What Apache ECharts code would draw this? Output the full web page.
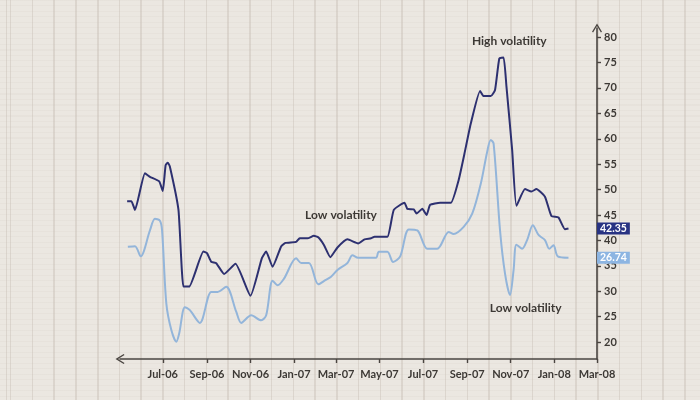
<!DOCTYPE html>
<html>
<head>
<meta charset="utf-8">
<script src="https://cdn.jsdelivr.net/npm/echarts@6/dist/echarts.min.js"></script>
<style>
html, body { margin: 0; padding: 0; }
body {
  width: 700px; height: 400px; overflow: hidden;
  background-color: #ebe7e1;
  background-image:
    repeating-linear-gradient(to right, rgba(190,180,170,0.35) 0px, rgba(190,180,170,0.35) 1.5px, transparent 1.5px, transparent 21.75px),
    repeating-linear-gradient(to bottom, rgba(200,190,180,0.12) 0px, rgba(200,190,180,0.12) 1px, transparent 1px, transparent 5.5px);
  background-position: 10px 0, 0 0;
}
#chart { width: 700px; height: 400px; }
</style>
</head>
<body>
<div id="chart"></div>
<script>
// ---- data ----
const darkDates = ['2006-05-12','2006-05-18','2006-05-23','2006-06-06','2006-06-13','2006-06-26','2006-07-01','2006-07-05','2006-07-08','2006-07-11','2006-07-23','2006-07-30','2006-08-07','2006-08-27','2006-09-01','2006-09-07','2006-09-14','2006-09-25','2006-10-11','2006-11-01','2006-11-17','2006-11-23','2006-12-02','2006-12-14','2006-12-20','2007-01-04','2007-01-09','2007-01-20','2007-01-29','2007-02-04','2007-02-12','2007-02-21','2007-03-03','2007-03-17','2007-04-01','2007-04-10','2007-04-19','2007-04-24','2007-05-12','2007-05-21','2007-06-05','2007-06-09','2007-06-18','2007-06-22','2007-06-30','2007-07-06','2007-07-11','2007-07-25','2007-08-09','2007-08-20','2007-08-28','2007-09-06','2007-09-19','2007-09-24','2007-10-04','2007-10-10','2007-10-16','2007-10-22','2007-10-26','2007-11-03','2007-11-09','2007-11-21','2007-11-30','2007-12-07','2007-12-19','2007-12-28','2008-01-07','2008-01-16','2008-01-21'];
const darkValues = [47.7,47.7,46.0,53.2,52.5,51.6,49.7,54.8,55.3,54.5,46.0,30.9,30.9,37.8,37.5,35.8,35.5,33.4,35.4,29.1,36.5,37.8,34.8,38.8,39.5,39.7,40.4,40.4,40.9,40.6,39.1,36.7,38.6,40.2,39.4,40.2,40.4,40.7,40.7,46.0,47.4,46.2,46.1,45.3,46.2,45.0,47.0,47.4,47.4,51.9,57.0,63.0,69.4,68.4,68.4,69.6,75.8,76.0,70.3,57.8,46.8,50.1,49.6,50.1,48.6,44.8,44.5,42.2,42.35];

const lightDates = ['2006-05-13','2006-05-23','2006-05-31','2006-06-13','2006-06-20','2006-06-27','2006-06-30','2006-07-06','2006-07-13','2006-07-20','2006-07-24','2006-08-01','2006-08-08','2006-08-22','2006-09-07','2006-09-16','2006-09-28','2006-10-12','2006-10-19','2006-11-02','2006-11-16','2006-11-23','2006-12-02','2006-12-09','2006-12-18','2007-01-04','2007-01-11','2007-01-22','2007-02-04','2007-02-14','2007-02-22','2007-03-03','2007-03-17','2007-03-24','2007-04-01','2007-04-26','2007-04-30','2007-05-12','2007-05-20','2007-05-30','2007-06-11','2007-06-23','2007-07-07','2007-07-21','2007-08-06','2007-08-13','2007-08-27','2007-09-08','2007-09-20','2007-09-29','2007-10-04','2007-10-08','2007-10-17','2007-10-24','2007-10-31','2007-11-05','2007-11-09','2007-11-17','2007-11-24','2007-12-02','2007-12-10','2007-12-19','2007-12-25','2007-12-31','2008-01-06','2008-01-21'];
const lightValues = [28.9,29.0,27.0,32.1,34.4,34.0,32.1,17.7,12.5,10.2,11.8,17.0,16.4,13.9,20.0,20.0,21.0,16.1,13.9,15.4,14.4,15.4,22.2,21.3,22.6,26.6,25.7,25.7,21.5,22.3,23.0,24.3,25.7,27.2,26.7,26.7,27.9,27.9,25.9,27.0,32.3,32.1,28.5,28.5,31.8,31.4,32.8,35.4,41.3,47.6,49.9,49.2,32.1,23.6,19.4,24.3,29.3,28.5,30.2,33.1,31.2,30.2,28.5,29.2,27.0,26.74];

const xTickDates = ['2006-07-01','2006-09-01','2006-11-01','2007-01-01','2007-03-01','2007-05-01','2007-07-01','2007-09-01','2007-11-01','2008-01-01','2008-03-01'];
const yTicks = [20,25,30,35,40,45,50,55,60,65,70,75,80];
const monthNames = ['Jan','Feb','Mar','Apr','May','Jun','Jul','Aug','Sep','Oct','Nov','Dec'];

const annotations = [
  { text: 'High volatility', date: '2007-10-30', value: 79.3 },
  { text: 'Low volatility',  date: '2007-03-08', value: 45.0 },
  { text: 'Low volatility',  date: '2007-11-22', value: 26.7 }
];

// ---- layout / scale settings ----
const yMin = 16.65, yMax = 81.8;
const lightShift = 9.86; // light series plotted on a shifted scale
const xMin = '2006-05-02', xMax = '2008-03-01';

const axisColor = '#4a4541';
const textColor = '#3d3935';
const darkColor = '#2d3070';
const lightColor = '#93b5da';
const fontFamily = 'Lato, "Open Sans", sans-serif';
const chevron = 'path://M5,0 L10,8.2 L8.9,9 L5,2.6 L1.1,9 L0,8.2 Z';

const ts = s => Date.UTC(+s.slice(0, 4), +s.slice(5, 7) - 1, +s.slice(8, 10));
const pair = (ds, vs) => ds.map((d, i) => [ts(d), vs[i]]);
const fmtDate = v => { const d = new Date(v); return monthNames[d.getUTCMonth()] + '-' + String(d.getUTCFullYear()).slice(2); };

const chart = echarts.init(document.getElementById('chart'));
chart.setOption({
  backgroundColor: 'transparent',
  animation: false,
  grid: { left: 120, right: 103, top: 28, bottom: 41, containLabel: false },
  xAxis: {
    type: 'value',
    min: ts(xMin), max: ts(xMax),
    axisLine: { show: true, lineStyle: { color: axisColor, width: 1.6 }, symbol: [chevron, 'none'], symbolSize: [13, 9] },
    axisTick: { show: true, length: 4, lineStyle: { color: axisColor, width: 1.4 }, customValues: xTickDates.map(ts) },
    axisLabel: {
      customValues: xTickDates.map(ts),
      color: textColor, fontSize: 11, fontWeight: 'bold', fontFamily: fontFamily, margin: 10,
      formatter: fmtDate
    },
    splitLine: { show: false }
  },
  yAxis: [
    {
      type: 'value', position: 'right', min: yMin, max: yMax,
      axisLine: { show: true, lineStyle: { color: axisColor, width: 1.6 }, symbol: ['none', chevron], symbolSize: [13, 9] },
      axisTick: { show: true, length: 4, lineStyle: { color: axisColor, width: 1.4 }, customValues: yTicks },
      axisLabel: { customValues: yTicks, color: textColor, fontSize: 11, fontWeight: 'bold', fontFamily: fontFamily, margin: 7 },
      splitLine: { show: false }
    },
    {
      type: 'value', position: 'right', min: yMin - lightShift, max: yMax - lightShift, z: 10,
      axisLine: { show: false }, axisTick: { show: false }, splitLine: { show: false },
      axisLabel: {
        customValues: [lightValues[lightValues.length - 1]],
        formatter: v => v.toFixed(2),
        color: '#ffffff', backgroundColor: '#8db5e2', padding: [1, 3, 0, 3],
        fontSize: 10.5, fontWeight: 'bold', fontFamily: fontFamily, margin: 0
      }
    },
    {
      type: 'value', position: 'right', min: yMin, max: yMax, z: 10,
      axisLine: { show: false }, axisTick: { show: false }, splitLine: { show: false },
      axisLabel: {
        customValues: [darkValues[darkValues.length - 1]],
        formatter: v => v.toFixed(2),
        color: '#ffffff', backgroundColor: '#283383', padding: [1, 3, 0, 3],
        fontSize: 10.5, fontWeight: 'bold', fontFamily: fontFamily, margin: 0
      }
    }
  ],
  series: [
    {
      name: 'light', type: 'line', yAxisIndex: 1,
      data: pair(lightDates, lightValues),
      showSymbol: false, smooth: 0.3,
      lineStyle: { color: lightColor, width: 2 }, z: 2
    },
    {
      name: 'dark', type: 'line', yAxisIndex: 0,
      data: pair(darkDates, darkValues),
      showSymbol: false, smooth: 0.15,
      lineStyle: { color: darkColor, width: 2 }, z: 3,
      markPoint: {
        symbol: 'circle', symbolSize: 0, silent: true,
        label: { show: true, position: 'inside', color: textColor, fontSize: 12, fontWeight: 'bold', fontFamily: fontFamily, formatter: p => p.name },
        data: annotations.map(a => ({ name: a.text, coord: [ts(a.date), a.value] }))
      }
    }
  ]
});
</script>
</body>
</html>
